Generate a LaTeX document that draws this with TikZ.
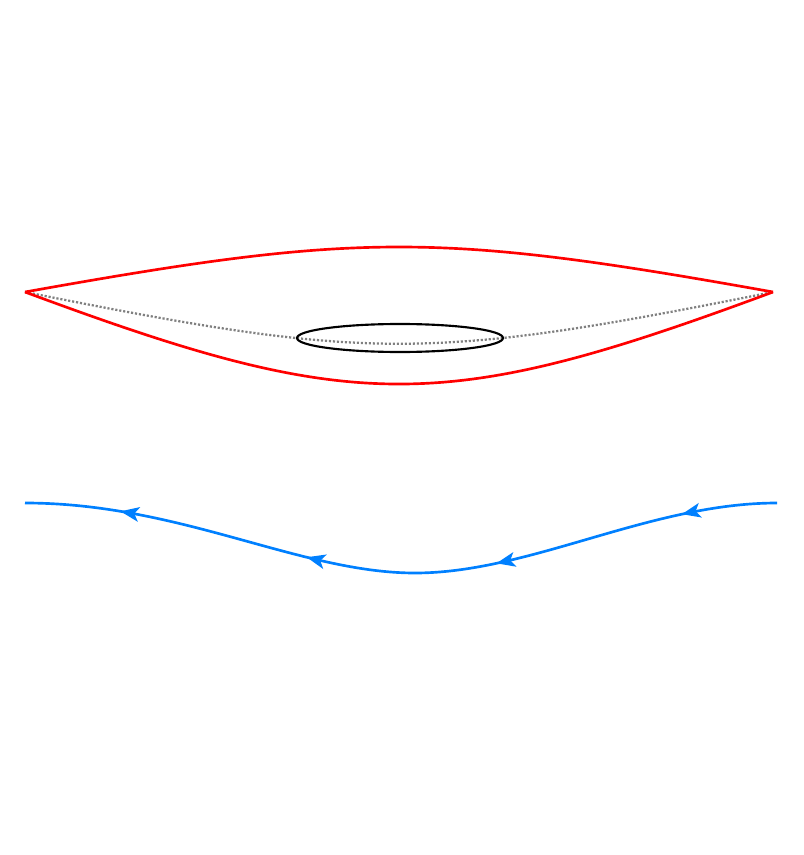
\documentclass[tikz,border=0pt]{standalone}
\usetikzlibrary{arrows.meta,decorations.markings}
\definecolor{myblue}{RGB}{0,128,255}
\tikzset{
  redline/.style={draw=red, line width=2pt},
  dotline/.style={draw=gray, line width=1.7pt, dash pattern=on 1.6pt off 1.4pt},
  flowline/.style={draw=myblue, line width=2pt,
    postaction={decorate},
    decoration={markings,
      mark=at position 0.125 with {\arrow{Stealth[length=14pt,width=11pt,inset=3.5pt]}},
      mark=at position 0.375 with {\arrow{Stealth[length=14pt,width=11pt,inset=3.5pt]}},
      mark=at position 0.625 with {\arrow{Stealth[length=14pt,width=11pt,inset=3.5pt]}},
      mark=at position 0.875 with {\arrow{Stealth[length=14pt,width=11pt,inset=3.5pt]}}}},
}
\begin{document}
\begin{tikzpicture}[x=0.75pt,y=-0.75pt]
\useasboundingbox (0,0) rectangle (803,855);
\coordinate (L) at (25,292);
\coordinate (R) at (773,292);
\draw[dotline] (L) .. controls (370,361) and (428,361) .. (R);
\draw[line width=1.6pt] (400,338) ellipse [x radius=103, y radius=14];
\draw[redline] (L) .. controls (360,232) and (438,232) .. (R);
\draw[redline] (L) .. controls (355,414.7) and (443,414.7) .. (R);
\coordinate (BR) at (777,503);
\coordinate (BM) at (415,573);
\coordinate (BL) at (25,503);
\draw[flowline] (BR) .. controls (650,503) and (530,573) .. (BM)
  .. controls (300,573) and (180,503) .. (BL);
\end{tikzpicture}
\end{document}
